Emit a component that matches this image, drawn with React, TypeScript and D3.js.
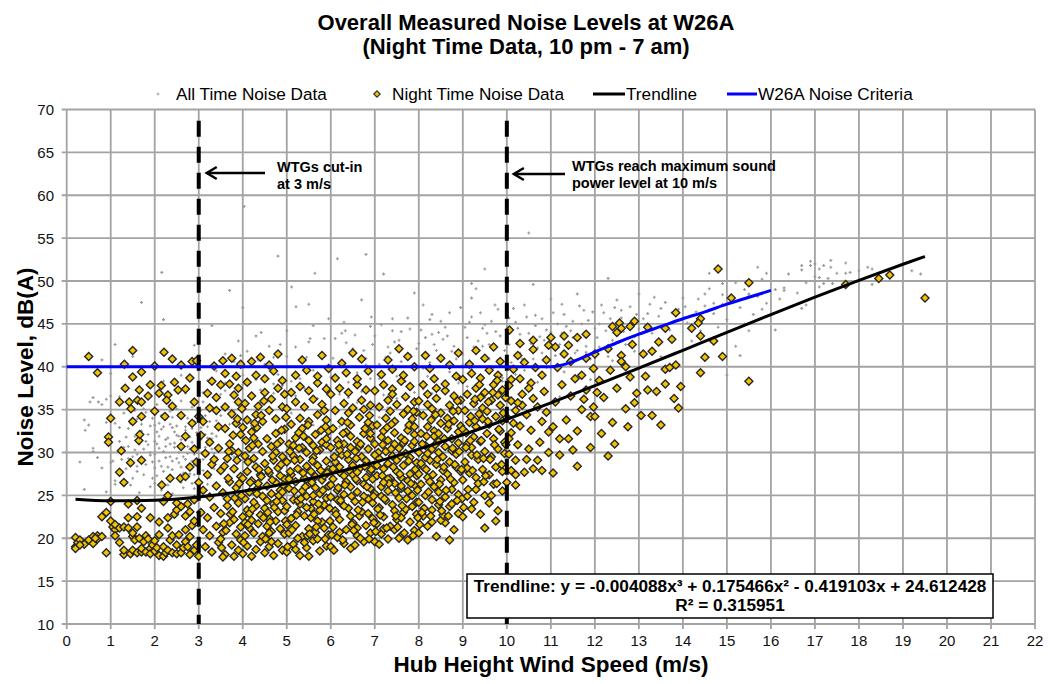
import React from 'react';
import * as d3 from 'd3';

// ---------- data ----------
const X_TICKS = [0, 1, 2, 3, 4, 5, 6, 7, 8, 9, 10, 11, 12, 13, 14, 15, 16, 17, 18, 19, 20, 21, 22];
const Y_TICKS = [10, 15, 20, 25, 30, 35, 40, 45, 50, 55, 60, 65, 70];

const TREND_X = [0.2, 1, 2, 3, 4, 5, 6, 7, 8, 9, 10, 11, 12, 13, 14, 15, 16, 17, 18, 19, 19.5];
const TREND_Y = [24.54, 24.36, 24.44, 24.82, 25.48, 26.39, 27.53, 28.87, 30.4, 32.07, 33.88, 35.79, 37.79, 39.84, 41.92, 44.01, 46.08, 48.11, 50.08, 51.95, 52.85];

const CRIT_X = [0, 11, 11.5, 12, 12.5, 13, 13.5, 14, 14.5, 15, 15.5, 16];
const CRIT_Y = [40, 40, 40.6, 41.7, 42.8, 43.8, 44.7, 45.6, 46.4, 47.3, 48.1, 48.9];

const CUT_IN = [3];
const MAX_POWER = [10];

const ALL_TIME = `
0.42,32.6 0.53,35.9 0.72,35.9 0.9,33.5 1.05,29.0 1.1,26.7 1.2,32.9 0.6,30.1 0.8,28.2 1.0,36.6 0.4,25.7 0.3,28.9 0.5,33.2 0.6,30.5 0.7,29.4 0.8,35.6 0.9,36.2 1.0,28.8 1.1,33.4 1.2,31.3
1.3,30.6 1.4,32.8 1.5,29.5 1.55,31.9 1.6,27.8 1.7,33.3 1.75,30.4 1.8,28.6 1.85,32.1 1.9,29.7 1.95,34.0 2.0,31.3 2.05,27.3 2.1,29.0 2.15,32.7 2.2,30.1 2.25,33.9 2.3,28.3 2.35,31.0 2.4,26.9
2.45,32.4 2.5,29.3 2.55,34.5 2.6,30.8 2.65,27.6 2.7,33.0 2.75,29.9 2.8,31.8 2.85,26.4 2.9,33.6 2.95,30.0 3.0,28.9 3.05,32.9 3.1,29.2 3.15,34.3 3.2,30.9 3.25,27.1 3.3,32.2 3.35,29.9 3.4,33.7
1.45,26.2 1.65,25.3 1.9,26.0 2.15,25.6 2.4,25.2 2.65,25.9 2.9,27.4 1.75,35.1 2.05,35.6 2.35,34.8 2.6,36.0 2.85,35.3 3.1,35.9 1.35,28.1 1.6,33.9 2.0,28.2 2.25,31.5 2.5,33.1 2.75,28.4 3.0,31.0
2.2,27.8 2.45,30.6 2.7,31.4 2.95,32.3 2.1,33.4 2.55,28.8 2.8,30.4 3.2,33.0 1.85,30.9 2.35,29.5 2.65,32.0 1.55,30.3 1.95,28.9 2.4,34.1 2.85,29.0 1.4,30.7 1.9,30.0 2.4,29.0 2.9,29.8 3.4,29.4
1.6,28.4 2.1,31.9 2.6,31.5 3.2,31.7 2.0,33.2 2.5,35.1 3.0,27.6 1.3,34.6 1.1,26.3 0.9,25.4 1.0,39.2 0.6,36.4 0.4,33.8 1.2,36.5 2.3,35.8 2.7,36.9 3.5,34.3 3.6,35.6 3.7,33.3 3.5,36.8
3.8,34.8 3.9,36.1 2.2,38.3 2.6,39.0 1.5,41.2 2.16,51.0 4.03,58.7 4.8,52.9 5.64,50.9 6.15,52.6 5.11,49.3 5.21,47.0 6.92,45.8 9.5,51.4 9.2,49.7 9.2,48.0 9.73,47.2 9.4,46.3 8.1,47.2 8.3,46.1
8.5,45.3 4.42,44.0 5.53,43.3 6.33,44.2 7.4,44.2 7.8,44.4 10.5,55.6 3.7,48.9 1.7,47.5 2.2,45.5 1.1,42.6 0.8,40.8 3.3,44.8 2.9,42.5
3.2,38.4 3.4,39.5 3.6,38.1 3.8,40.6 4.0,39.0 4.1,41.8 4.3,38.5 4.5,40.3 4.6,42.4 4.8,39.1 5.0,41.2 5.1,38.3 5.3,40.7 5.5,42.9 5.6,39.6 5.8,41.5 6.0,38.8 6.1,43.3 6.3,40.1 6.5,42.1
6.6,39.3 6.8,41.0 7.0,43.6 7.1,40.3 7.3,42.3 7.5,38.9 7.6,44.1 7.8,41.4 8.0,42.7 8.1,39.8 8.3,43.8 8.5,41.1 8.6,44.6 8.8,42.4 9.0,40.2 9.1,43.4 9.3,41.8 9.5,44.9 9.6,42.6 9.8,40.8
10.0,43.1 10.2,45.2 10.3,41.6 10.5,43.9 10.7,42.2 10.8,45.6 11.0,44.0 11.2,42.6 11.3,46.1 11.5,43.4 11.7,45.0 11.8,41.7 12.0,44.5 12.2,46.3 12.4,43.1 12.6,45.7 12.8,47.0 13.0,44.4 13.2,46.2 13.4,42.8
13.6,47.5 13.8,45.3 14.0,48.0 14.3,46.4 14.6,49.1 14.9,47.3 15.2,49.8 15.5,48.4 15.8,50.2 16.1,49.0 16.4,50.8 16.7,51.3 17.0,50.5 17.2,51.8 17.5,50.9 17.7,52.1 18.0,51.2 16.9,52.3 17.4,49.7
4.2,36.5 4.4,37.3 4.7,36.9 4.9,37.8 5.2,36.6 5.4,37.5 5.7,36.3 5.9,37.9 6.2,36.8 6.4,38.2 6.7,37.1 6.9,38.6 7.2,36.7 7.4,37.7 7.7,38.3 7.9,37.0 8.2,38.9 8.4,37.6 8.7,39.4 8.9,38.1
9.2,39.7 9.4,38.4 9.7,39.9 9.9,38.7 10.1,40.5 10.4,39.6 10.6,40.9 10.9,39.9 11.1,41.3 11.4,40.6 11.6,41.9 11.9,40.9 12.1,42.3 12.3,41.2 12.7,42.6 12.9,41.8 13.3,43.9 13.7,44.3 14.1,45.1 14.4,44.2
14.7,46.2 15.0,45.5 15.3,46.9 15.6,46.1 15.9,47.4 16.2,47.9 16.6,48.6 17.1,49.3 4.3,43.6 5.0,44.2 5.6,44.8 6.3,45.2 6.9,44.7 7.4,45.6 8.0,45.0 8.7,46.3 9.2,45.8 9.8,46.7 10.4,47.2 11.0,47.9
11.6,48.5 4.0,46.9 5.5,47.3 6.7,47.8 7.9,48.6 10.6,49.6 9.3,49.1 12.3,50.3 6.8,53.1 7.2,50.8
15.7,51.6 15.9,50.9 16.7,51.8 16.9,51.8 17.0,52.0 17.1,51.4 17.36,52.4 17.36,51.6 17.1,50.4 17.2,49.7 17.7,50.9 18.3,51.4 18.3,49.6 19.2,51.2 19.4,50.8 16.3,49.2 16.8,47.2 16.7,46.8 15.8,46.7 15.5,44.2
16.1,44.3 15.2,42.4 15.3,41.3 15.0,39.0 15.4,49.0 15.5,48.5 15.8,50.2 14.5,48.5 14.6,50.9 14.9,49.7 14.9,48.4 14.7,47.4
3.3,31.6 3.8,29.5 4.2,33.1 4.6,31.2 5.1,34.6 5.4,32.4 5.9,35.1 6.2,33.0 6.6,35.8 7.1,34.1 7.5,36.3 7.9,34.4 8.3,36.9 8.7,35.7 9.1,37.7 9.5,36.4 9.9,38.3 4.4,35.8 4.9,34.0 5.6,33.2
6.4,36.4 7.3,35.2 8.1,37.4 8.9,38.8 9.6,40.9 10.2,39.1 10.8,41.6 11.3,39.4 11.8,42.4 12.4,40.7 12.9,43.5 13.5,41.2 14.2,43.0 14.8,44.6 15.4,45.0 16.0,46.0 3.1,37.0 3.6,37.2 4.0,37.9 4.7,38.0
5.3,38.6 6.0,39.7 6.8,40.2 7.6,40.6 8.4,41.9 9.0,41.4 9.7,42.0 10.3,43.8 10.9,44.3 11.5,45.3 12.1,45.0 12.6,46.6 13.1,45.6 13.5,46.8 14.5,47.1 15.1,47.6 15.7,48.2 16.3,48.9 16.8,49.8 17.3,50.3
17.8,51.0 18.2,51.6 5.8,31.1 6.9,32.6 7.7,33.0 4.8,30.3 8.5,34.2 9.3,35.0 10.0,36.9 10.7,38.2 11.2,36.5 11.9,38.5
1.25,29.2 1.35,31.8 1.45,33.4 1.5,27.0 1.6,29.8 1.7,32.5 1.75,27.4 1.8,31.3 1.9,33.1 1.95,27.0 2.0,29.8 2.05,32.4 2.1,30.5 2.15,28.4 2.2,33.0 2.25,29.4 2.3,31.7 2.35,33.3 2.4,28.0 2.45,31.1
2.5,32.0 2.55,30.0 2.6,26.5 2.65,29.5 2.7,32.6 2.75,30.7 2.8,27.5 2.85,31.2 2.9,28.6 2.95,34.3 3.0,29.9 3.05,31.5 3.1,27.9 3.15,32.1 3.2,29.7 3.25,33.6 3.3,30.4 3.35,28.1 3.4,31.9 3.45,34.8
2.0,26.4 2.3,26.2 2.6,28.3 2.9,25.8 3.2,26.3 1.8,34.7 2.15,34.3 2.45,35.4 2.75,34.0 3.05,34.9 1.55,34.9 1.4,29.3 2.55,31.9 2.25,30.7 2.85,32.8 2.05,31.0 1.65,31.0 2.7,29.2 3.15,30.6 2.4,32.9
6.05,41.0 6.35,42.8 6.65,40.7 6.95,42.6 7.25,41.1 7.55,43.1 7.85,40.1 8.15,43.4 8.45,44.0 8.75,41.8 9.05,44.6 9.35,43.0 9.65,45.3 9.95,41.9 10.25,44.5 10.55,42.7 10.85,43.1 11.15,45.0 11.45,44.2 11.75,46.6
12.05,43.4 12.35,45.6 12.65,44.1 12.95,46.1 13.25,47.3 9.25,42.3 9.85,43.6 10.45,45.8 11.05,46.3 11.65,47.1 8.95,46.9 10.15,46.8 12.5,47.8 13.0,48.5 13.9,46.7 7.1,38.6 8.25,40.5 9.55,43.9 10.65,44.8 11.35,44.7
12.15,47.2 8.05,44.3 7.45,42.9 6.55,43.7 5.85,43.3 5.2,42.3 4.7,41.1 3.6,41.5 3.9,43.0
7.35,41.6 7.95,42.1 8.55,43.2 8.85,40.9 9.45,42.4 9.75,44.1 10.05,42.6 10.35,40.9 10.75,43.5 11.25,43.9 11.55,41.6 11.85,45.4 12.25,44.2 12.55,42.9 12.85,45.1 13.15,44.9 13.45,45.9 13.75,46.3 14.05,47.0 14.35,47.9
8.35,42.6 8.65,43.6 9.15,45.2 9.45,44.5 10.05,45.7 10.65,46.0 11.25,47.3 11.95,46.4 12.45,46.9 13.35,48.1 6.75,41.9 7.15,44.9 7.75,45.7 8.25,45.5 6.25,43.9 5.45,41.1 4.85,42.6 4.35,40.8 3.95,41.3 5.95,45.6
`;

const NIGHT = `
0.2,19.0 0.2,18.8 0.2,20.1 0.25,19.5 0.3,19.8 0.4,19.3 0.5,19.8 0.6,20.2 0.6,19.4 0.7,20.3 0.7,19.9 0.8,20.2 0.9,18.3 0.8,22.5 0.9,23.0 0.5,41.2 0.7,39.3 0.3,19.2 0.65,20.0
1.0,24.3 1.0,22.0 1.05,21.3 1.1,21.0 1.1,20.3 1.1,21.6 1.2,21.2 1.2,19.5 1.3,18.1 1.3,18.6 1.3,21.3 1.4,22.4 1.4,21.2 1.45,18.2 1.5,18.6 1.5,20.2 1.5,20.6 1.55,19.8 1.6,18.3 1.6,21.3
1.6,22.5 1.6,24.4 1.65,20.0 1.7,18.4 1.7,18.8 1.75,19.6 1.8,18.4 1.8,20.3 1.85,19.9 1.9,18.8 1.9,18.2 1.95,19.2
0.95,31.8 0.95,31.2 1.2,27.7 1.24,30.2 1.7,29.1 1.64,31.4 1.66,32.1 1.7,34.2 1.5,33.6 1.46,35.1 1.2,35.9 1.42,35.9 1.61,36.1 1.7,35.9 1.65,37.3 1.33,37.5 1.9,37.9 1.31,40.3 1.5,41.9 1.5,38.8
1.7,39.4 1.45,28.8 1.3,26.5 1.9,22.4 1.7,23.5 1.4,24.0 1.0,34.0 1.85,36.6
2.0,18.5 2.0,19.7 2.05,18.9 2.1,18.0 2.1,20.4 2.2,17.9 2.2,19.0 2.25,18.3 2.3,18.6 2.3,21.2 2.35,19.8 2.4,18.3 2.4,20.3 2.45,22.8 2.5,18.2 2.5,19.2 2.55,20.4 2.6,18.3 2.65,18.9 2.7,19.6
2.7,21.0 2.75,19.0 2.8,18.1 2.8,20.2 2.85,21.5 2.9,18.6 2.9,22.0 2.95,19.2 2.1,21.9 2.3,22.4 2.5,23.3 2.6,23.7 2.7,22.6 2.75,24.0 2.2,24.3 2.5,24.1 2.8,23.1 2.9,24.5
2.1,36.9 2.3,36.7 2.53,37.3 2.7,37.4 2.27,36.1 2.23,34.2 2.6,30.7 2.58,27.0 2.35,27.0 2.7,27.2 2.16,26.2 2.95,28.9 2.9,35.9 2.4,35.4 2.0,34.8 2.6,34.3 2.85,33.4 2.7,31.9 2.9,30.4 2.8,28.3
2.0,40.1 2.21,41.7 2.4,40.9 2.6,40.2 2.85,40.6 2.95,40.7 2.3,25.0 2.45,38.2 2.8,38.7 2.15,37.8
3.0,34.2 3.1,33.6 3.05,32.0 3.2,36.9 3.3,38.3 3.4,36.4 3.5,37.9 3.6,39.2 3.7,38.0 3.8,36.7 3.9,37.5 3.35,40.1 3.55,40.7 3.75,41.0 3.95,40.3 3.15,29.9 3.25,31.2 3.45,30.5 3.6,32.8 3.7,31.0
3.85,33.4 3.95,32.1 3.2,27.4 3.3,28.6 3.5,27.9 3.65,29.3 3.8,28.1 3.9,30.0 3.1,25.6 3.25,24.8 3.4,26.1 3.55,25.3 3.7,26.6 3.85,25.9 3.95,27.2 3.05,23.0 3.2,22.4 3.35,23.6 3.5,22.9 3.65,23.8
3.8,22.2 3.9,24.1 3.1,21.0 3.25,20.3 3.4,21.4 3.55,20.7 3.7,21.8 3.85,20.5 3.95,21.3 3.15,19.0 3.3,18.4 3.45,19.5 3.6,18.1 3.75,19.2 3.9,18.6 3.0,17.9 3.55,17.8 3.8,17.9 3.4,34.9 3.6,35.3
3.75,34.5 3.9,35.9 3.25,35.2 3.45,33.0 3.65,24.6 3.75,30.2 3.35,29.2 3.0,26.5 3.85,38.9 3.5,19.9 3.95,19.8
4.0,18.2 4.1,19.1 4.2,17.9 4.3,18.7 4.4,19.6 4.5,18.3 4.6,19.0 4.7,18.0 4.8,19.4 4.9,18.6 4.05,20.3 4.15,21.2 4.25,20.6 4.35,21.7 4.45,20.2 4.55,21.4 4.65,20.8 4.75,22.0 4.85,21.1 4.95,20.5
4.0,22.5 4.1,23.3 4.2,22.1 4.3,23.8 4.4,22.7 4.5,23.5 4.6,22.3 4.7,24.0 4.8,23.1 4.9,24.4 4.05,24.6 4.15,25.4 4.25,24.2 4.35,25.9 4.45,24.9 4.55,26.1 4.65,25.2 4.75,26.5 4.85,25.6 4.95,26.9
4.0,27.0 4.1,27.8 4.2,26.7 4.3,28.3 4.4,27.4 4.5,28.7 4.6,27.6 4.7,29.1 4.8,28.2 4.9,29.5 4.05,29.6 4.15,30.5 4.25,29.3 4.35,31.0 4.45,30.1 4.55,31.6 4.65,30.7 4.75,32.2 4.85,31.3 4.95,32.7
4.0,32.9 4.1,33.8 4.2,32.4 4.3,34.4 4.45,33.6 4.6,34.9 4.75,33.9 4.9,35.3 4.05,35.7 4.2,36.6 4.35,35.4 4.5,37.0 4.65,36.2 4.8,37.5 4.95,36.8 4.1,38.2 4.3,39.0 4.5,38.6 4.7,39.5 4.9,38.4
4.2,40.6 4.6,40.2 4.4,41.1 4.8,41.5 4.15,22.9 4.55,24.4 4.85,27.3 4.25,31.7 4.65,19.6 4.35,26.4 4.75,30.0 4.05,21.8 4.95,23.2
5.0,18.4 5.15,19.3 5.3,18.0 5.45,18.9 5.6,19.7 5.75,18.5 5.9,19.1 5.05,20.6 5.2,21.5 5.35,20.2 5.5,21.1 5.65,20.7 5.8,21.9 5.95,20.4 5.1,22.3 5.25,23.1 5.4,22.6 5.55,23.5 5.7,22.0 5.85,23.9
5.0,23.7 5.15,24.5 5.3,24.0 5.45,24.9 5.6,24.3 5.75,25.2 5.9,24.7 5.05,25.8 5.2,26.6 5.35,25.5 5.5,26.3 5.65,25.9 5.8,26.8 5.95,26.1 5.1,27.4 5.25,28.1 5.4,27.0 5.55,27.8 5.7,28.5 5.85,27.3
5.0,28.9 5.15,29.6 5.3,29.2 5.45,30.0 5.6,29.4 5.75,30.3 5.9,29.0 5.05,31.0 5.2,31.7 5.35,30.6 5.5,31.4 5.65,32.1 5.8,31.2 5.95,32.5 5.1,33.3 5.3,34.0 5.5,33.6 5.7,34.4 5.9,33.8 5.0,35.1
5.2,35.9 5.4,35.3 5.6,36.2 5.8,35.6 5.1,37.0 5.3,37.7 5.5,37.2 5.7,38.1 5.9,37.4 5.2,39.0 5.45,39.6 5.7,38.9 5.95,39.8 5.35,40.8 5.8,41.3 5.25,20.0 5.55,22.4 5.85,21.2 5.05,26.9 5.45,28.4
5.75,23.3 5.15,30.8 5.65,27.2 5.95,28.0 5.35,32.8 5.6,30.8 5.25,24.4 5.9,30.9 5.4,19.5 5.7,19.9 5.5,17.9 5.85,34.9
6.0,19.0 6.15,20.1 6.3,19.4 6.45,18.8 6.6,20.3 6.75,19.6 6.9,20.6 6.05,21.3 6.2,22.2 6.35,21.0 6.5,21.8 6.65,22.6 6.8,21.5 6.95,22.3 6.1,23.2 6.25,24.0 6.4,23.5 6.55,24.3 6.7,23.1 6.85,24.6
6.0,24.8 6.15,25.6 6.3,25.1 6.45,26.0 6.6,25.4 6.75,26.3 6.9,25.8 6.05,26.9 6.2,27.7 6.35,26.6 6.5,27.4 6.65,28.1 6.8,27.1 6.95,28.4 6.1,28.9 6.25,29.7 6.4,29.2 6.55,30.1 6.7,29.5 6.85,30.4
6.0,30.6 6.15,31.4 6.3,31.0 6.45,31.9 6.6,31.3 6.75,32.2 6.9,31.7 6.05,32.8 6.25,33.6 6.45,33.2 6.65,34.1 6.85,33.5 6.1,34.9 6.3,35.7 6.5,35.2 6.7,36.1 6.9,35.5 6.0,36.8 6.2,37.5 6.4,37.0
6.6,37.9 6.8,37.3 6.1,38.7 6.35,39.3 6.6,38.6 6.85,39.5 6.25,40.4 6.7,40.9 6.5,41.6 6.2,20.7 6.55,19.2 6.85,22.9 6.15,24.5 6.45,22.6 6.75,24.9 6.3,27.3 6.6,26.7 6.95,26.9 6.2,30.3 6.5,28.5
6.8,29.0 6.35,32.4 6.65,30.7 6.95,33.1 6.4,34.6 6.75,35.0 6.05,28.1 6.9,27.8 6.3,23.8 6.6,21.2 6.95,24.1
7.0,19.6 7.15,20.5 7.3,19.9 7.45,21.0 7.6,20.3 7.75,19.8 7.9,20.9 7.05,21.7 7.2,22.5 7.35,21.4 7.5,22.2 7.65,23.0 7.8,21.9 7.95,22.8 7.1,23.6 7.25,24.4 7.4,23.9 7.55,24.7 7.7,23.4 7.85,25.0
7.0,25.2 7.15,26.0 7.3,25.5 7.45,26.4 7.6,25.8 7.75,26.7 7.9,26.2 7.05,27.3 7.2,28.1 7.35,27.0 7.5,27.8 7.65,28.5 7.8,27.5 7.95,28.8 7.1,29.3 7.25,30.1 7.4,29.6 7.55,30.5 7.7,29.9 7.85,30.8
7.0,31.0 7.15,31.8 7.3,31.4 7.45,32.3 7.6,31.7 7.75,32.6 7.9,32.1 7.05,33.2 7.25,34.0 7.45,33.6 7.65,34.5 7.85,33.9 7.1,35.3 7.3,36.1 7.5,35.6 7.7,36.5 7.9,35.9 7.0,37.2 7.2,37.9 7.4,37.4
7.6,38.3 7.8,37.7 7.15,39.1 7.4,39.7 7.65,39.0 7.9,40.0 7.3,40.8 7.75,41.2 7.55,42.1 7.2,21.1 7.55,20.0 7.85,23.7 7.15,24.9 7.45,23.2 7.75,25.5 7.3,28.7 7.6,27.1 7.95,27.3 7.2,32.5 7.5,29.1
7.8,29.4 7.35,34.8 7.65,31.1 7.95,34.7 7.4,36.8 7.75,35.0 7.05,28.5 7.9,31.3 7.3,26.9 7.6,22.4 7.95,24.2 7.1,19.3
8.0,20.6 8.2,21.4 8.4,20.2 8.6,21.8 8.8,21.0 8.1,22.6 8.3,23.3 8.5,22.1 8.7,23.7 8.9,22.9 8.0,24.2 8.15,25.0 8.3,24.5 8.45,25.4 8.6,24.8 8.75,25.7 8.9,25.1 8.05,26.3 8.2,27.1 8.35,26.0
8.5,26.8 8.65,27.5 8.8,26.5 8.95,27.8 8.1,28.3 8.25,29.1 8.4,28.6 8.55,29.5 8.7,28.9 8.85,29.8 8.0,30.0 8.15,30.8 8.3,30.4 8.45,31.3 8.6,30.7 8.75,31.6 8.9,31.1 8.05,32.2 8.2,33.0 8.35,32.5
8.5,33.4 8.65,32.8 8.8,33.7 8.95,33.1 8.1,34.3 8.3,35.1 8.5,34.6 8.7,35.5 8.9,34.9 8.0,36.0 8.2,36.8 8.4,36.3 8.6,37.2 8.8,36.6 8.1,37.9 8.35,38.6 8.6,38.0 8.85,38.9 8.25,39.8 8.7,40.2
8.5,41.0 8.9,41.6 8.15,41.3 8.45,23.9 8.75,24.0 8.25,26.6 8.55,27.9 8.85,28.3 8.15,29.4 8.45,30.0 8.75,30.2 8.35,31.9 8.65,34.0 8.95,36.1 8.4,37.5 8.05,28.7 8.9,32.4 8.55,22.7 8.3,21.9 8.7,19.8
8.2,35.6
9.0,22.5 9.2,23.4 9.4,22.8 9.6,24.1 9.8,23.2 9.1,24.9 9.3,25.7 9.5,25.0 9.7,26.3 9.9,25.5 9.0,26.8 9.15,27.6 9.3,27.1 9.45,28.0 9.6,27.4 9.75,28.3 9.9,27.8 9.05,28.9 9.2,29.7 9.35,29.2
9.5,30.1 9.65,29.5 9.8,30.4 9.95,29.9 9.1,31.0 9.25,31.8 9.4,31.3 9.55,32.2 9.7,31.6 9.85,32.5 9.0,32.7 9.15,33.5 9.3,33.0 9.45,33.9 9.6,33.3 9.75,34.2 9.9,33.7 9.05,34.9 9.25,35.7 9.45,35.2
9.65,36.1 9.85,35.5 9.1,36.8 9.3,37.5 9.5,37.0 9.7,37.9 9.9,37.3 9.0,38.5 9.2,39.2 9.4,38.7 9.6,39.6 9.8,39.0 9.15,40.3 9.5,41.0 9.85,40.6 9.3,41.9 9.7,42.3 9.35,26.4 9.65,25.0 9.95,31.2
9.2,30.6 9.55,34.8 9.8,36.7 9.4,36.4 9.1,28.2 9.75,22.0 9.5,21.2 9.25,24.2
10.0,26.5 10.1,27.9 10.2,27.4 10.4,27.7 10.45,29.2 10.7,29.1 10.8,27.9 10.05,29.8 10.25,30.9 10.5,30.4 10.75,31.2 10.95,30.0 10.1,32.3 10.3,33.1 10.55,32.6 10.8,33.6 10.0,34.1 10.2,34.9 10.45,34.4 10.7,35.3
10.9,34.7 10.1,36.0 10.35,36.8 10.6,36.3 10.85,37.1 10.05,37.8 10.3,38.6 10.55,38.1 10.8,39.0 10.15,39.7 10.4,40.5 10.65,39.9 10.9,40.8 10.25,41.3 10.6,42.0 10.3,42.7 10.6,43.1 10.06,44.3 10.95,42.5 10.2,26.2
10.6,28.1 10.95,32.4 10.5,37.5 10.35,35.5
11.0,43.4 11.3,43.6 11.6,43.4 11.8,43.8 11.1,42.3 11.4,42.5 11.2,29.7 11.5,30.3 11.4,31.6 11.2,31.6 11.05,33.0 11.35,33.8 11.6,32.5 11.9,34.2 11.7,35.0 11.97,35.3 11.1,35.9 11.45,36.6 11.8,37.3 11.25,37.9
11.55,38.6 11.7,39.0 11.97,39.8 11.15,39.9 11.45,40.6 11.8,41.0 11.3,41.5 11.6,28.4 11.9,30.6 11.05,27.6 11.75,36.2
12.0,41.5 12.3,42.1 12.1,38.4 12.5,37.5 12.7,40.0 12.8,38.8 12.4,44.7 12.56,45.1 12.6,44.5 12.8,44.7 12.9,45.3 12.5,44.0 12.7,35.1 12.9,35.8 12.4,33.5 12.0,34.2 12.2,36.4 12.35,39.6 12.6,41.3 12.85,42.6
12.15,32.2 12.45,31.0 12.75,33.0 12.95,36.9 12.3,29.6 12.05,37.0 12.6,40.6
13.05,34.3 13.3,34.3 13.2,37.3 13.4,37.1 13.1,41.5 13.3,41.8 13.6,39.7 13.7,39.9 13.84,40.2 13.6,38.0 13.95,37.7 13.8,36.3 13.2,44.6 13.6,44.5 13.84,46.3 13.5,33.2 13.9,35.2 13.15,38.9 13.45,42.9 13.75,43.2
14.4,45.6 14.4,43.6 14.5,41.1 14.9,41.2 14.4,39.3 14.8,51.4 15.5,49.8 15.1,48.0 15.5,38.3 17.7,49.6 18.45,50.3 18.7,50.7 19.5,48.0 14.2,44.5 14.7,43.0 14.35,45.1
`;

// densest part of the night-time cloud (wind 3.5 - 10.3 m/s)
const NIGHT_CORE = `
3.52,18.9 3.62,20.9 3.72,22.8 3.82,24.7 3.92,26.4 3.58,28.4 3.68,30.1 3.78,32.0 3.88,33.9 3.98,35.1 4.02,19.5 4.12,21.6 4.22,23.4 4.32,25.2 4.42,27.2 4.12,28.9 4.22,30.8 4.32,32.9 4.42,34.3 4.48,36.0
3.57,21.7 3.77,23.1 3.97,25.0 4.17,26.5 4.37,28.0 3.67,27.0 3.87,29.1 4.07,31.4 4.27,33.4 4.47,22.4
4.52,19.9 4.62,21.9 4.72,23.6 4.82,25.0 4.92,26.2 4.58,27.9 4.68,29.6 4.78,31.0 4.88,32.6 4.98,34.1 5.02,19.0 5.12,21.0 5.22,22.7 5.32,24.6 5.42,26.0 5.08,27.8 5.18,29.1 5.28,30.5 5.38,31.9 5.48,33.2
4.57,23.0 4.77,24.3 4.97,22.0 5.17,25.5 5.37,27.6 4.67,26.8 4.87,28.6 5.07,30.1 5.27,32.3 5.47,20.3 4.6,20.6 5.0,21.6 5.2,18.7 4.9,25.4 5.45,23.6
5.52,20.5 5.62,22.8 5.72,24.0 5.82,25.6 5.92,27.6 5.58,29.0 5.68,30.2 5.78,32.6 5.88,33.0 5.98,22.0 6.02,20.4 6.12,22.8 6.22,24.4 6.32,26.2 6.42,27.9 6.08,29.5 6.18,30.9 6.28,32.2 6.38,33.5 6.48,21.6
5.57,26.5 5.77,27.9 5.97,23.5 6.17,25.9 6.37,29.8 5.67,21.3 5.87,19.9 6.07,18.6 6.27,19.8 6.47,24.9 5.6,25.0 6.0,26.2 6.2,28.3 5.9,31.6 6.45,30.6
6.52,20.9 6.62,23.3 6.72,24.2 6.82,26.0 6.92,28.0 6.58,29.3 6.68,31.0 6.78,32.8 6.88,34.3 6.98,21.8 7.02,20.8 7.12,22.7 7.22,24.6 7.32,26.4 7.42,28.3 7.08,30.0 7.18,30.9 7.28,32.9 7.38,33.3 7.48,22.6
6.57,26.9 6.77,28.4 6.97,24.9 7.17,27.3 7.37,30.4 6.67,20.0 6.87,19.9 7.07,23.4 7.27,21.2 7.47,25.3 6.6,27.7 7.0,29.7 7.2,26.5 6.9,32.2 7.45,31.0
7.52,21.3 7.62,23.8 7.72,24.6 7.82,26.4 7.92,28.0 7.58,29.6 7.68,31.4 7.78,33.2 7.88,34.8 7.98,22.4 8.02,21.6 8.12,23.5 8.22,25.4 8.32,27.4 8.42,29.2 8.08,31.0 8.18,31.9 8.28,33.8 8.38,34.4 8.48,24.3
7.57,27.5 7.77,29.0 7.97,25.6 8.17,28.0 8.37,30.9 7.67,20.6 7.87,20.3 8.07,23.0 8.27,22.6 8.47,26.3 7.6,26.1 8.0,27.5 8.2,29.9 7.9,33.0 8.45,32.2
8.52,23.2 8.62,25.6 8.72,26.9 8.82,28.6 8.92,30.1 8.58,31.6 8.68,33.3 8.78,34.8 8.88,36.0 8.98,24.6 9.02,23.6 9.12,25.7 9.22,27.9 9.32,29.7 9.42,31.4 9.08,32.3 9.18,34.2 9.28,36.2 9.38,37.9 9.48,26.6
8.57,28.3 8.77,30.5 8.97,28.0 9.17,31.4 9.37,34.5 8.67,22.6 8.87,24.4 9.07,30.6 9.27,33.7 9.47,29.3
9.52,27.3 9.62,29.2 9.72,30.9 9.82,32.7 9.92,34.6 9.58,35.9 9.68,37.0 9.78,38.4 9.88,28.6 9.98,30.9 10.05,31.6 10.15,33.4 10.25,35.8 9.57,33.6 9.77,26.4 9.97,36.4 10.2,29.1 10.1,38.5
`;

const parsePts = (s: string): [number, number][] =>
  s.trim().split(/\s+/).map((p) => p.split(',').map(Number) as [number, number]);

const allTime = parsePts(ALL_TIME);
const night = parsePts(NIGHT).concat(parsePts(NIGHT_CORE));

// ---------- layout ----------
const W = 1050;
const H = 684;
const FONT = "'Liberation Sans', Arial, Helvetica, sans-serif";

export default function App() {
  const x = d3.scaleLinear().domain([0, 22]).range([66.7, 1035]);
  const y = d3.scaleLinear().domain([10, 70]).range([624, 109.5]);
  const [x0, x1] = x.range();
  const [yb, yt] = y.range();

  const lineGen = d3
    .line<[number, number]>()
    .x((d) => x(d[0]))
    .y((d) => y(d[1]))
    .curve(d3.curveMonotoneX);
  const trendPath = lineGen(TREND_X.map((v, i) => [v, TREND_Y[i]] as [number, number]))!;
  const critPath = lineGen(CRIT_X.map((v, i) => [v, CRIT_Y[i]] as [number, number]))!;

  const grayD = allTime
    .map(([a, b]) => {
      const px = x(a);
      const py = y(b);
      return `M${(px - 1.5).toFixed(1)},${py.toFixed(1)}h3M${px.toFixed(1)},${(py - 1.5).toFixed(1)}v3`;
    })
    .join('');

  const r = 4;
  const diamond = (cx: number, cy: number, rr = r) =>
    `M${cx},${cy - rr}L${cx + rr},${cy}L${cx},${cy + rr}L${cx - rr},${cy}Z`;

  const gridColor = '#a3a3a3';

  return (
    <svg
      width={W}
      height={H}
      viewBox={`0 0 ${W} ${H}`}
      style={{ position: 'absolute', left: 0, top: 0, background: '#fff' }}
      fontFamily={FONT}
    >
      <rect x={0} y={0} width={W} height={H} fill="#fff" />
      {/* title */}
      <text x={526} y={30} textAnchor="middle" fontSize={22} fontWeight="bold" fill="#000">
        Overall Measured Noise Levels at W26A
      </text>
      <text x={526} y={54} textAnchor="middle" fontSize={22} fontWeight="bold" fill="#000">
        (Night Time Data, 10 pm - 7 am)
      </text>

      {/* legend */}
      <g fontSize={17.2} fill="#000">
        <path d="M156.5,94h3M158,92.5v3" stroke="#a3a3a3" strokeWidth={1} />
        <text x={176} y={100}>All Time Noise Data</text>
        <path d={diamond(377, 94, 3.2)} fill="#f2c200" stroke="#333" strokeWidth={1.2} />
        <text x={392} y={100}>Night Time Noise Data</text>
        <line x1={593} x2={625} y1={94} y2={94} stroke="#000" strokeWidth={3} />
        <text x={626} y={100}>Trendline</text>
        <line x1={727} x2={757} y1={94} y2={94} stroke="#0000ff" strokeWidth={3} />
        <text x={758} y={100}>W26A Noise Criteria</text>
      </g>

      {/* grid */}
      <g stroke={gridColor} strokeWidth={1.8}>
        {X_TICKS.map((t) => (
          <line key={'vx' + t} x1={x(t)} x2={x(t)} y1={yt} y2={yb + 5} />
        ))}
        {Y_TICKS.map((t) => (
          <line key={'hy' + t} x1={x0 - 5} x2={x1} y1={y(t)} y2={y(t)} />
        ))}
      </g>

      {/* tick labels */}
      <g fontSize={15} fill="#111">
        {X_TICKS.map((t) => (
          <text key={'xl' + t} x={x(t)} y={646} textAnchor="middle">
            {t}
          </text>
        ))}
        {Y_TICKS.map((t) => (
          <text key={'yl' + t} x={54} y={y(t) + 5.5} textAnchor="end">
            {t}
          </text>
        ))}
      </g>

      {/* all-time points */}
      <path d={grayD} stroke="#999" strokeWidth={1.1} fill="none" />

      {/* night points */}
      <g fill="#f4c400" stroke="#262626" strokeWidth={1.4}>
        {night.map(([a, b], i) => (
          <path key={i} d={diamond(+x(a).toFixed(1), +y(b).toFixed(1))} />
        ))}
      </g>

      {/* reference lines */}
      {CUT_IN.concat(MAX_POWER).map((v) => (
        <line
          key={'ref' + v}
          x1={x(v)}
          x2={x(v)}
          y1={y(68.7)}
          y2={yb}
          stroke="#000"
          strokeWidth={4}
          strokeDasharray="16 10"
        />
      ))}

      {/* criteria + trend */}
      <path d={critPath} fill="none" stroke="#0000ff" strokeWidth={3} />
      <path d={trendPath} fill="none" stroke="#000" strokeWidth={3} />

      {/* annotations */}
      <g stroke="#000" strokeWidth={2.5} fill="none">
        <line x1={x(CUT_IN[0]) + 8} x2={265} y1={173} y2={173} />
        <polyline points={`${x(CUT_IN[0]) + 18},167 ${x(CUT_IN[0]) + 8},173 ${x(CUT_IN[0]) + 18},179`} />
        <line x1={x(MAX_POWER[0]) + 7} x2={565} y1={174} y2={174} />
        <polyline points={`${x(MAX_POWER[0]) + 17},168 ${x(MAX_POWER[0]) + 7},174 ${x(MAX_POWER[0]) + 17},180`} />
      </g>
      <g fontSize={14.5} fontWeight="bold" fill="#000">
        <text x={277} y={172}>WTGs cut-in</text>
        <text x={277} y={189}>at 3 m/s</text>
        <text x={572} y={171}>WTGs reach maximum sound</text>
        <text x={572} y={188}>power level at 10 m/s</text>
      </g>

      {/* trendline equation box */}
      <rect x={467} y={574} width={526} height={44} fill="#fff" stroke="#000" strokeWidth={1.5} />
      <g fontSize={17.2} fontWeight="bold" fill="#000" textAnchor="middle">
        <text x={730} y={592}>Trendline:  y = -0.004088x³ + 0.175466x² - 0.419103x + 24.612428</text>
        <text x={730} y={611}>R² = 0.315951</text>
      </g>

      {/* axis titles */}
      <text x={551} y={672} textAnchor="middle" fontSize={22.5} fontWeight="bold" fill="#000">
        Hub Height Wind Speed (m/s)
      </text>
      <text
        transform="translate(33,367) rotate(-90)"
        textAnchor="middle"
        fontSize={22.5}
        fontWeight="bold"
        fill="#000"
      >
        Noise Level, dB(A)
      </text>
    </svg>
  );
}
